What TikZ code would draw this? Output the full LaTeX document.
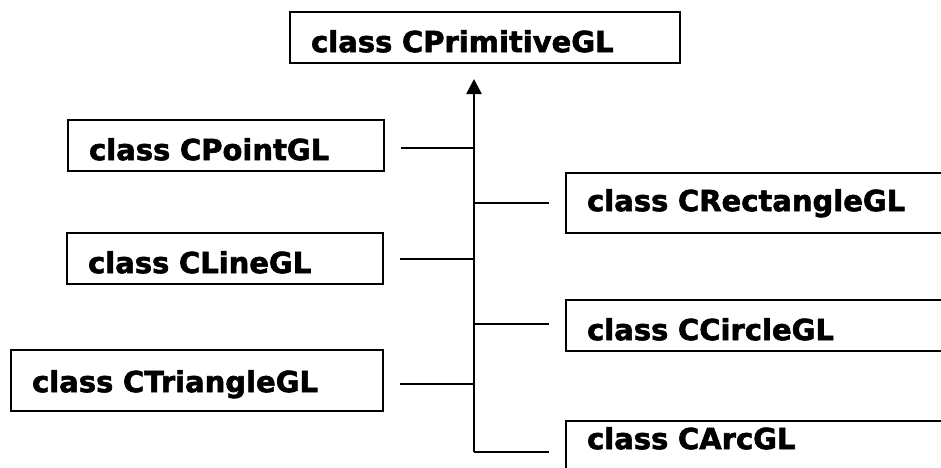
\documentclass[tikz,border=0pt]{standalone}
\usepackage{fontspec}
\newfontfamily\boxfont{DejaVu Sans}[FakeBold=2]
\usetikzlibrary{arrows.meta}
\tikzset{
  classbox/.style={draw=black, line width=2.2pt, anchor=north west, align=left,
    inner xsep=21pt, inner ysep=0pt, text height=40pt, text depth=11pt,
    font=\boxfont\bfseries\fontsize{29}{31}\selectfont},
  link/.style={draw=black, line width=2.2pt},
  trunk/.style={draw=black, line width=2.6pt}
}
\begin{document}
\begin{tikzpicture}[x=1pt,y=-1pt]
\clip (0,0) rectangle (941,467);
\fill[white] (0,0) rectangle (941,467);
% parent
\node[classbox, text width=348pt] (prim) at (289,11) {class CPrimitiveGL};
% left children
\node[classbox, text width=274pt] (point) at (67,119) {class CPointGL};
\node[classbox, text width=274pt] (line) at (66,232) {class CLineGL};
\node[classbox, text width=330pt, text height=42pt, text depth=19pt] (tri) at (10,349) {class CTriangleGL};
% right children
\node[classbox, text width=360pt, text height=38pt, text depth=22pt] (rect) at (565,172) {class CRectangleGL};
\node[classbox, text width=360pt] (circ) at (565,299) {class CCircleGL};
\node[classbox, text width=360pt, text height=28pt, text depth=40pt] (arc) at (565,420) {class CArcGL};
% trunk
\coordinate (trunkbot) at (474,452);
\coordinate (tip) at (474,79);
\draw[trunk, -{Triangle[width=15pt,length=15pt]}] (trunkbot) -- (tip);
% left links
\coordinate (pointend) at ([xshift=16pt,yshift=-2.5pt]point.east);
\coordinate (lineend) at ([xshift=16pt]line.east);
\coordinate (triend) at ([xshift=16pt,yshift=-3.5pt]tri.east);
\draw[link] (pointend) -- (pointend -| trunkbot);
\draw[link] (lineend) -- (lineend -| trunkbot);
\draw[link] (triend) -- (triend -| trunkbot);
% right links
\coordinate (rectend) at ([xshift=-16pt]rect.west);
\coordinate (circend) at ([xshift=-16pt,yshift=1.5pt]circ.west);
\coordinate (arcend) at ([xshift=-16pt]arc.north west);
\draw[link] (rectend -| trunkbot) -- (rectend);
\draw[link] (circend -| trunkbot) -- (circend);
\draw[link] (trunkbot) -- (trunkbot -| arcend);
\end{tikzpicture}
\end{document}
